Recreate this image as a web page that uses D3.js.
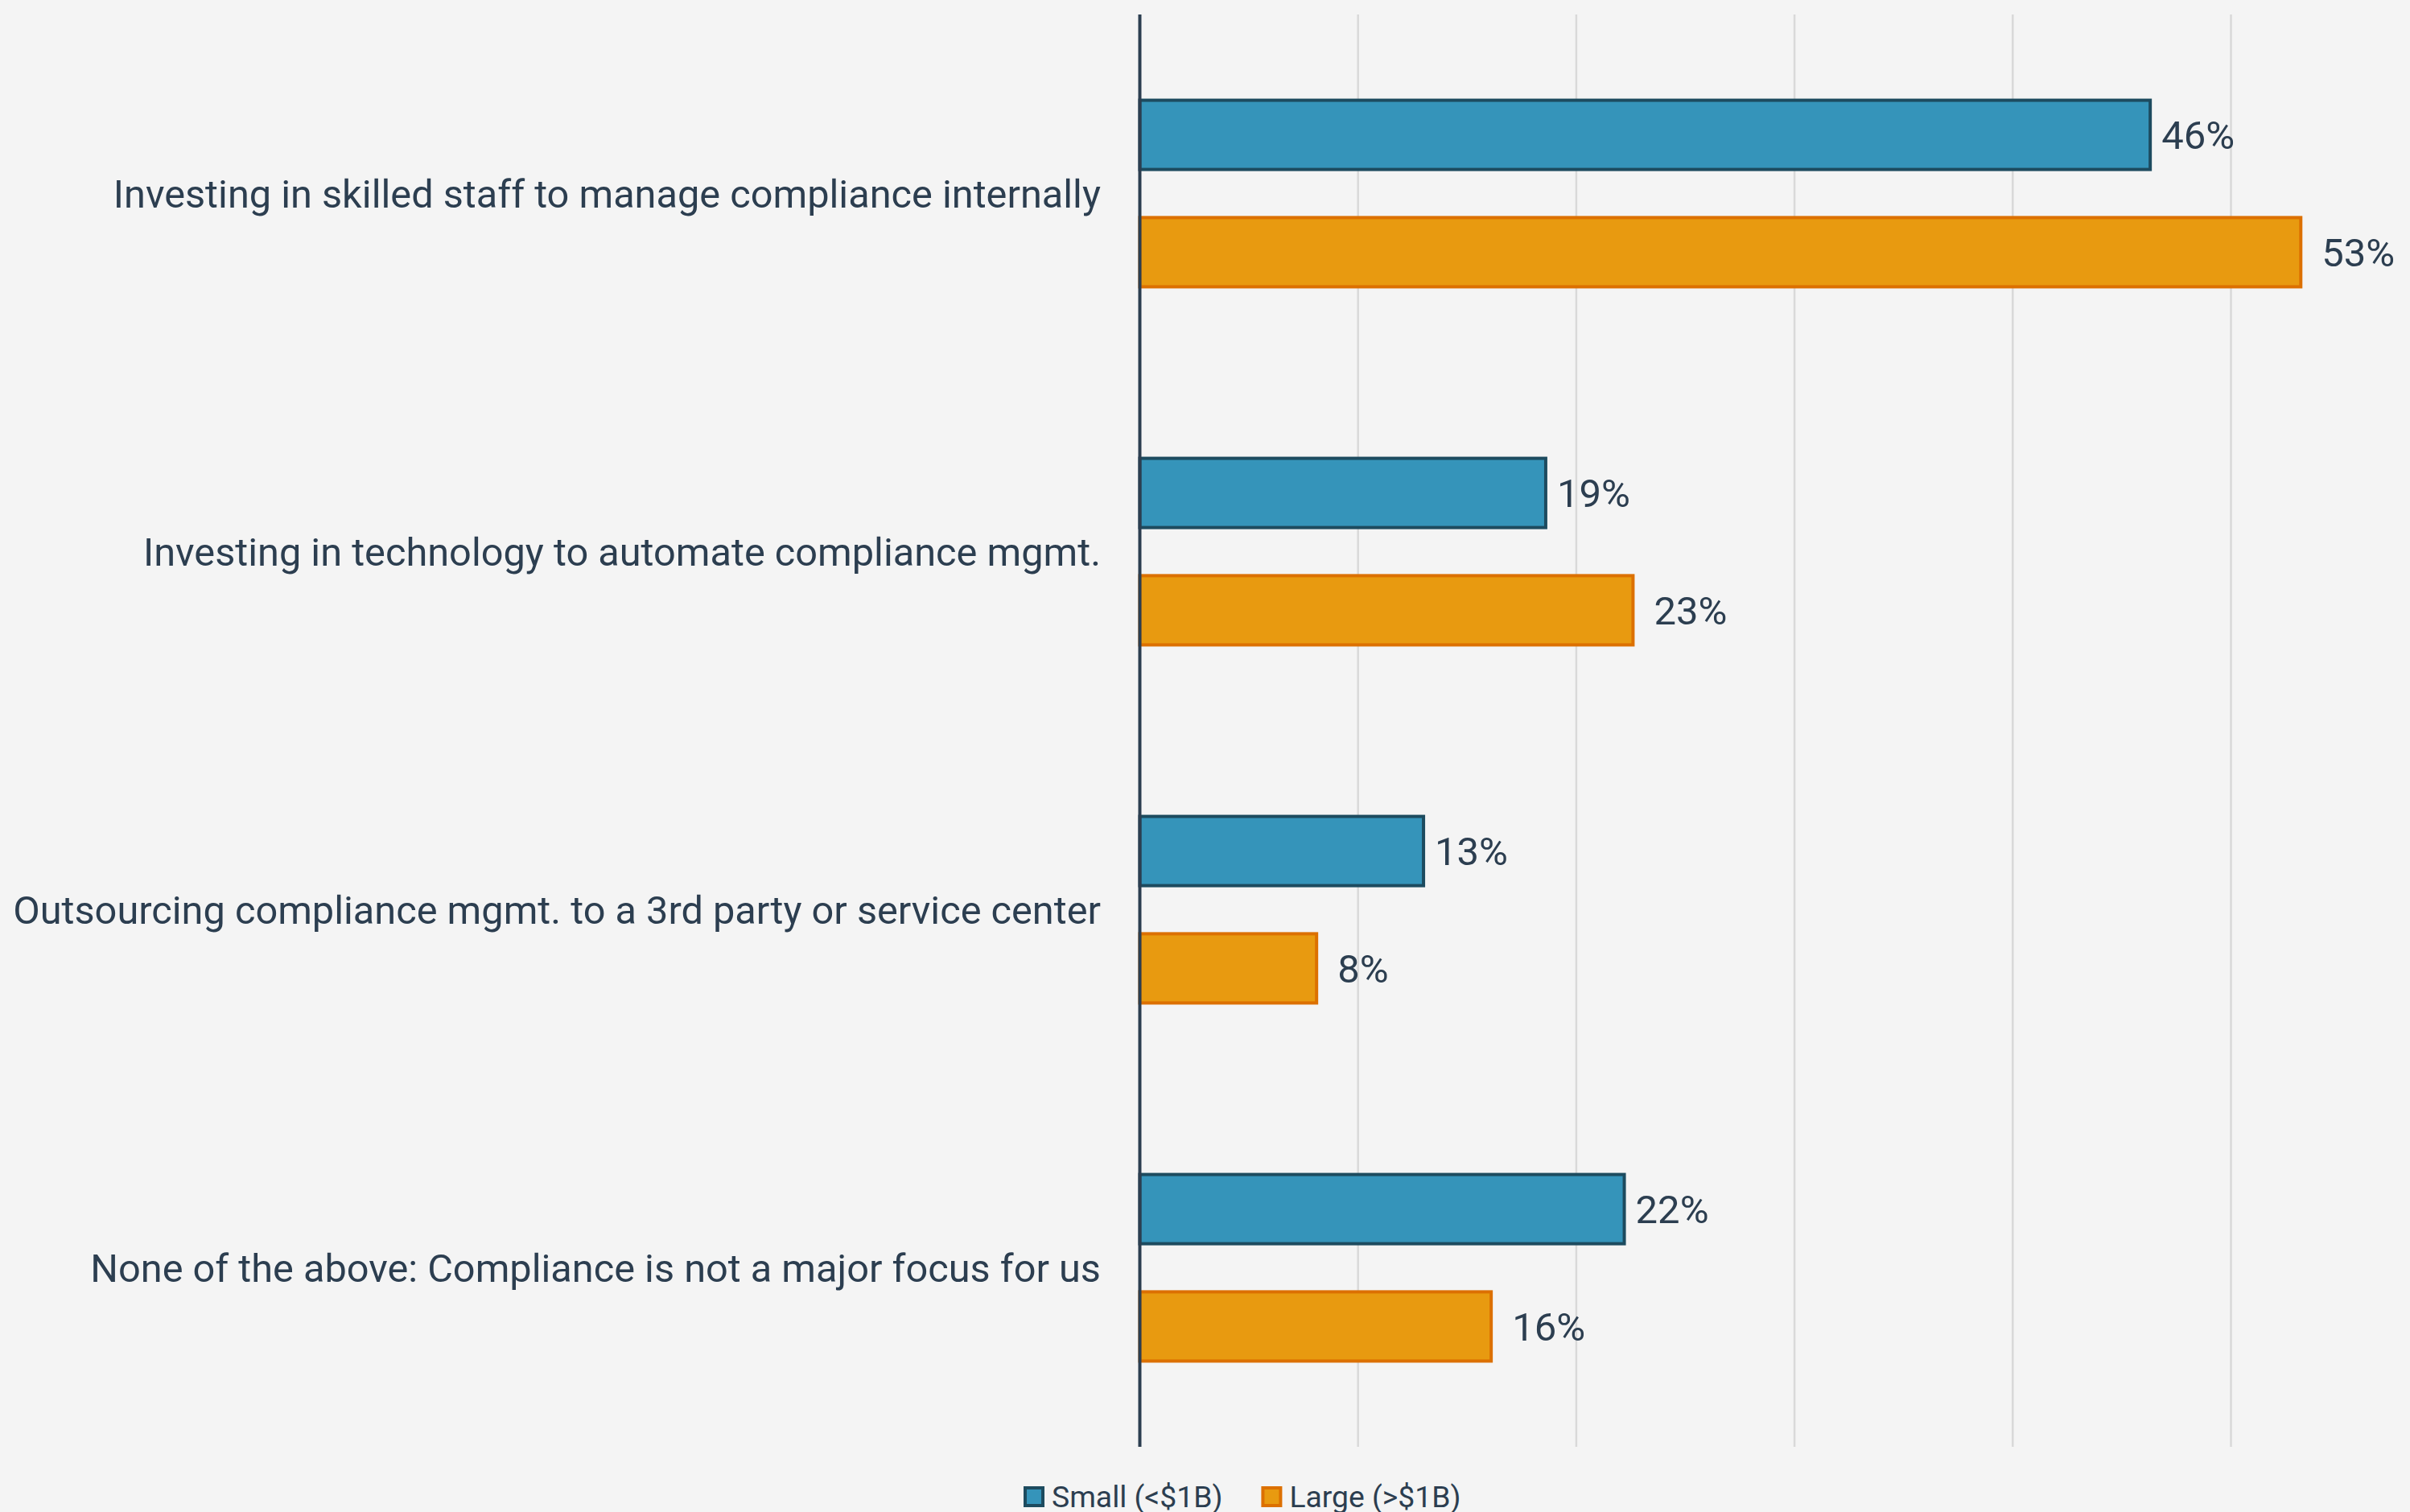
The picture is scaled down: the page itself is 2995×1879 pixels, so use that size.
<!DOCTYPE html>
<html>
<head>
<meta charset="utf-8">
<script src="https://cdn.jsdelivr.net/npm/d3@7"></script>
<style>
  html, body { margin: 0; padding: 0; background: #f4f4f4; }
  svg { display: block; font-family: Roboto, "Open Sans", sans-serif; }
</style>
</head>
<body>
<div id="chart"></div>
<script>
"use strict";

// data
const categories = [
  "Investing in skilled staff to manage compliance internally",
  "Investing in technology to automate compliance mgmt.",
  "Outsourcing compliance mgmt. to a 3rd party or service center",
  "None of the above: Compliance is not a major focus for us"
];
const series = ["Small (<$1B)", "Large (>$1B)"];
const small_values = [46.3, 18.6, 13.0, 22.2];
const large_values = [53.2, 22.6, 8.1, 16.1];
const grid_ticks = [10, 20, 30, 40, 50];

const fills = ["#3594ba", "#e89a10"];
const strokes = ["#1d4b5f", "#dc7000"];
const label_offset = [14, 26];
const text_color = "#2c3e50";

const width = 2995;
const height = 1879;
const plot_top = 18;
const plot_bottom = 1798;
const axis_x = 1416.5;
const step10 = 271.2;

const rows = categories.map(function(c, i) {
  return { name: c, values: [small_values[i], large_values[i]] };
});

const svg = d3.select("#chart")
    .append("svg")
    .attr("width", width)
    .attr("height", height);

svg.append("rect")
    .attr("width", width)
    .attr("height", height)
    .style("fill", "#f4f4f4");

const x = d3.scaleLinear()
    .domain([0, 60])
    .range([axis_x, axis_x + step10 * 6]);

const y = d3.scaleBand()
    .domain(categories)
    .range([plot_top, plot_bottom])
    .paddingInner(0.479)
    .paddingOuter(0.2395);

const ySub = d3.scaleBand()
    .domain(d3.range(series.length))
    .range([0, y.bandwidth()])
    .paddingInner(0.41);

// grid lines
svg.selectAll(".grid")
    .data(grid_ticks)
    .enter()
    .append("line")
    .attr("class", "grid")
    .attr("x1", d => x(d))
    .attr("x2", d => x(d))
    .attr("y1", plot_top)
    .attr("y2", plot_bottom)
    .style("stroke", "#d9d9d9")
    .style("stroke-width", 2.5);

// bars
const groups = svg.selectAll(".group")
    .data(rows)
    .enter()
    .append("g")
    .attr("class", "group")
    .attr("transform", d => `translate(0,${y(d.name)})`);

groups.selectAll("rect")
    .data(d => d.values.map((v, i) => ({ value: v, i: i })))
    .enter()
    .append("rect")
    .attr("x", x(0))
    .attr("y", d => ySub(d.i))
    .attr("width", d => x(d.value) - x(0))
    .attr("height", ySub.bandwidth())
    .style("fill", d => fills[d.i])
    .style("stroke", d => strokes[d.i])
    .style("stroke-width", 4);

groups.selectAll(".value")
    .data(d => d.values.map((v, i) => ({ value: v, i: i })))
    .enter()
    .append("text")
    .attr("class", "value")
    .attr("x", d => x(d.value) + label_offset[d.i])
    .attr("y", d => ySub(d.i) + ySub.bandwidth() / 2)
    .attr("dy", "0.36em")
    .text(d => d3.format(".0f")(d.value) + "%")
    .style("font-size", "49px")
    .style("fill", text_color);

// category labels
svg.selectAll(".cat")
    .data(categories)
    .enter()
    .append("text")
    .attr("class", "cat")
    .attr("x", 1368)
    .attr("y", d => y(d) + y.bandwidth() / 2)
    .attr("dy", "0.36em")
    .attr("text-anchor", "end")
    .text(d => d)
    .style("font-size", "48.7px")
    .style("fill", text_color);

// axis line
svg.append("line")
    .attr("x1", x(0))
    .attr("x2", x(0))
    .attr("y1", plot_top)
    .attr("y2", plot_bottom)
    .style("stroke", text_color)
    .style("stroke-width", 4);

// legend
const legend = svg.append("g").attr("transform", "translate(1274,1849)");
let lx = 0;
series.forEach(function(s, i) {
  const item = legend.append("g").attr("transform", `translate(${lx},0)`);
  item.append("rect")
      .attr("width", 22)
      .attr("height", 22)
      .style("fill", fills[i])
      .style("stroke", strokes[i])
      .style("stroke-width", 4);
  const t = item.append("text")
      .attr("x", 33)
      .attr("y", 24)
      .text(s)
      .style("font-size", "37.3px")
      .style("fill", text_color);
  lx += 33 + t.node().getComputedTextLength() + 50;
});
</script>
</body>
</html>
